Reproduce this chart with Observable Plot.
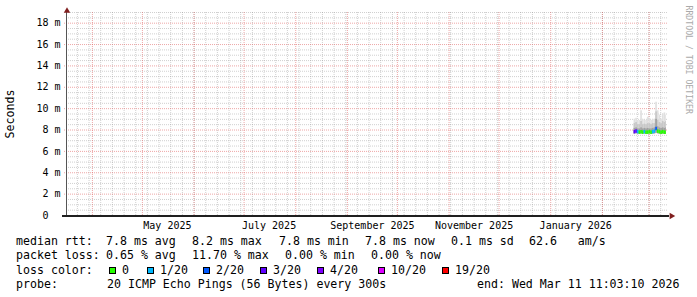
<!DOCTYPE html>
<html>
<head>
<meta charset="utf-8">
<script src="https://cdn.jsdelivr.net/npm/d3@7"></script>
<script src="https://cdn.jsdelivr.net/npm/@observablehq/plot@0.6"></script>
<style>
html, body { margin: 0; padding: 0; background: #fff; }
#chart svg { display: block; }
#legend { position: relative; width: 697px; height: 63px; font-family: "DejaVu Sans Mono", monospace; font-size: 11.6px; line-height: 14.3px; color: #000; }
#legend .abs { position: absolute; white-space: pre; height: 14.3px; }
#legend .box { position: absolute; width: 5px; height: 5px; border: 1px solid #000; }
</style>
</head>
<body>
<div id="chart"></div>
<div id="legend"></div>
<script>
// ---- time range of the graph ----
const startTime = new Date("2025-03-16T11:03:10Z");
const endTime = new Date("2026-03-11T11:03:10Z");

// ---- daily samples (ms) ----
const sampleDays = ["2026-02-20","2026-02-21","2026-02-22","2026-02-23","2026-02-24","2026-02-25","2026-02-26","2026-02-27","2026-02-28","2026-03-01",
                    "2026-03-02","2026-03-03","2026-03-04","2026-03-05","2026-03-06","2026-03-07","2026-03-08","2026-03-09","2026-03-10","2026-03-11"];
const rttMin    = [7.62,7.65,7.63,7.62,7.64,7.62,7.63,7.60,7.62,7.63,7.60,7.62,7.64,7.70,7.65,7.62,7.60,7.62,7.60,7.62];
const rttMedian = [7.85,7.90,7.85,7.80,7.85,7.80,7.85,7.80,7.80,7.85,7.80,7.85,7.90,8.15,7.90,7.85,7.80,7.85,7.80,7.80];
const rttP75    = [8.15,8.20,8.10,8.10,8.20,8.10,8.15,8.10,8.15,8.10,8.10,8.15,8.20,9.00,8.30,8.20,8.15,8.20,8.15,8.20];
const rttP90    = [8.60,8.70,8.50,8.50,8.80,8.50,8.55,8.50,8.60,8.60,8.50,8.60,8.60,9.70,8.90,8.70,8.60,8.80,8.70,8.80];
const rttMax    = [9.00,9.10,8.90,8.90,9.80,9.00,8.90,8.90,9.20,9.10,8.90,9.00,9.00,10.6,9.80,9.40,9.00,9.50,9.60,9.40];
const lossCount = [3,3,1,0,0,0,1,0,0,0,0,1,1,2,0,0,0,0,0,0];

// ---- loss colour legend ----
const lossThresholds = [0,1,2,3,4,10,19];
const lossLabels = ["0","1/20","2/20","3/20","4/20","10/20","19/20"];
const lossColors = ["#26ff00","#00b8ff","#0059ff","#5e00ff","#7e00ff","#dd00ff","#ff0000"];

// ---- axis ticks ----
const yTicks = [0,2,4,6,8,10,12,14,16,18];
const xLabelDates = ["2025-05-16","2025-07-16","2025-09-16","2025-11-16","2026-01-16"];
const xLabels = ["May 2025","July 2025","September 2025","November 2025","January 2026"];

// ---- legend text ----
const rttLegend  = ["median rtt:", "7.8 ms avg", "8.2 ms max", "7.8 ms min", "7.8 ms now", "0.1 ms sd", "62.6   am/s"];
const lossLegend = ["packet loss:", "0.65 % avg", "11.70 % max", "0.00 % min", "0.00 % now"];
const lossTitle = "loss color:";
const probeLegend = ["probe:", "20 ICMP Echo Pings (56 Bytes) every 300s", "end: Wed Mar 11 11:03:10 2026"];
const yLabel = "Seconds";
const watermark = "RRDTOOL / TOBI OETIKER";

function lossColor(n) {
  let c = lossColors[0];
  lossThresholds.forEach((th, j) => { if (n >= th) c = lossColors[j]; });
  return c;
}

const rows = sampleDays.map((d, i) => {
  const t0 = new Date(d + "T00:00:00Z");
  const t1 = new Date(Math.min(+d3.utcDay.offset(t0, 1), +endTime));
  return {t0, t1, min: rttMin[i], med: rttMedian[i], p75: rttP75[i], p90: rttP90[i], max: rttMax[i], color: lossColor(lossCount[i])};
});

const minorY = d3.range(1, 39).map(v => v / 2).filter(v => v % 2 !== 0);
const majorY = yTicks.filter(v => v > 0);
const minorX = d3.utcSunday.range(startTime, endTime);
const majorX = d3.utcMonth.range(startTime, endTime);
const labelMap = new Map(xLabelDates.map((d, i) => [+new Date(d + "T00:00:00Z"), xLabels[i]]));

const minorStyle = {stroke: "#8f8f8f", strokeOpacity: 0.42, strokeDasharray: "1,1"};
const majorStyle = {stroke: "#de4f4f", strokeOpacity: 0.5, strokeDasharray: "1,1"};

const chart = Plot.plot({
  width: 697,
  height: 234,
  marginLeft: 66,
  marginRight: 31,
  marginTop: 12,
  marginBottom: 19,
  x: {type: "utc", domain: [startTime, endTime]},
  y: {domain: [0, 19]},
  style: {background: "white", fontFamily: "'DejaVu Sans Mono', monospace", fontSize: "10px", color: "black"},
  marks: [
    Plot.ruleY(minorY, {...minorStyle, insetRight: -2}),
    Plot.ruleX(minorX, minorStyle),
    Plot.ruleY(majorY, {...majorStyle, insetRight: -2, insetLeft: -2}),
    Plot.ruleX(majorX, majorStyle),
    Plot.rect(rows, {x1: "t0", x2: "t1", y1: "min", y2: "max", fill: "#e0e0e0"}),
    Plot.rect(rows, {x1: "t0", x2: "t1", y1: "min", y2: "p90", fill: "#c8c8c8"}),
    Plot.rect(rows, {x1: "t0", x2: "t1", y1: "min", y2: "p75", fill: "#a0a0a0"}),
    Plot.ruleY(rows, {x1: "t0", x2: "t1", y: "med", stroke: "color", strokeWidth: 3.5}),
    Plot.ruleX([startTime], {stroke: "#555555"}),
    Plot.ruleY([0], {stroke: "#1f1f1f", strokeWidth: 2, insetLeft: -4, insetRight: -3, dy: 0.5}),
    Plot.dot([endTime], {x: d => d, y: () => 0, symbol: "triangle", rotate: 90, r: 2.4, fill: "#801f1f", stroke: null, dx: 5, dy: 0.5}),
    Plot.dot([startTime], {x: d => d, y: () => 19, symbol: "triangle", r: 2.4, fill: "#801f1f", stroke: null, dx: 0.5, dy: -1.5}),
    Plot.axisY({ticks: yTicks, tickFormat: d => d === 0 ? "0\u00a0\u00a0" : `${d} m`, tickSize: 0, tickPadding: 6, label: null, fontSize: 10}),
    Plot.axisX({ticks: [...labelMap.keys()].map(t => new Date(t)), tickFormat: d => labelMap.get(+d), tickSize: 0, tickPadding: 6, label: null, fontSize: 10}),
    Plot.text([yLabel], {text: d => d, frameAnchor: "left", rotate: -90, dx: -56, textAnchor: "middle", lineAnchor: "middle", fontSize: 11.6, fill: "black"}),
    Plot.text([watermark], {text: d => d, frameAnchor: "top-right", rotate: 90, dx: 22, dy: -7, textAnchor: "start", lineAnchor: "middle", fontSize: 8.2, fill: "#aaaaaa"})
  ]
});
document.getElementById("chart").appendChild(chart);

// ---- legend (HTML below the svg) ----
const legend = document.getElementById("legend");
const rowTops = [0, 14.3, 28.6, 42.9];
function put(text, left, top) {
  const d = document.createElement("div");
  d.className = "abs";
  d.style.left = left + "px";
  d.style.top = top + "px";
  d.textContent = text;
  legend.appendChild(d);
}
const rttLefts = [16, 106, 192, 279, 365, 451, 529];
rttLegend.forEach((t, i) => put(t, rttLefts[i], rowTops[0]));
const lossLefts = [16, 106, 192, 285, 371];
lossLegend.forEach((t, i) => put(t, lossLefts[i], rowTops[1]));
put(lossTitle, 16, rowTops[2]);
const probeLefts = [16, 107, 477];
probeLegend.forEach((t, i) => put(t, probeLefts[i], rowTops[3]));

const boxLefts = [109, 147, 203, 260, 317, 378, 442];
lossLabels.forEach((lab, i) => {
  const b = document.createElement("div");
  b.className = "box";
  b.style.left = boxLefts[i] + "px";
  b.style.top = (rowTops[2] + 4.3) + "px";
  b.style.background = lossColors[i];
  legend.appendChild(b);
  put(lab, boxLefts[i] + 13, rowTops[2]);
});
</script>
</body>
</html>
